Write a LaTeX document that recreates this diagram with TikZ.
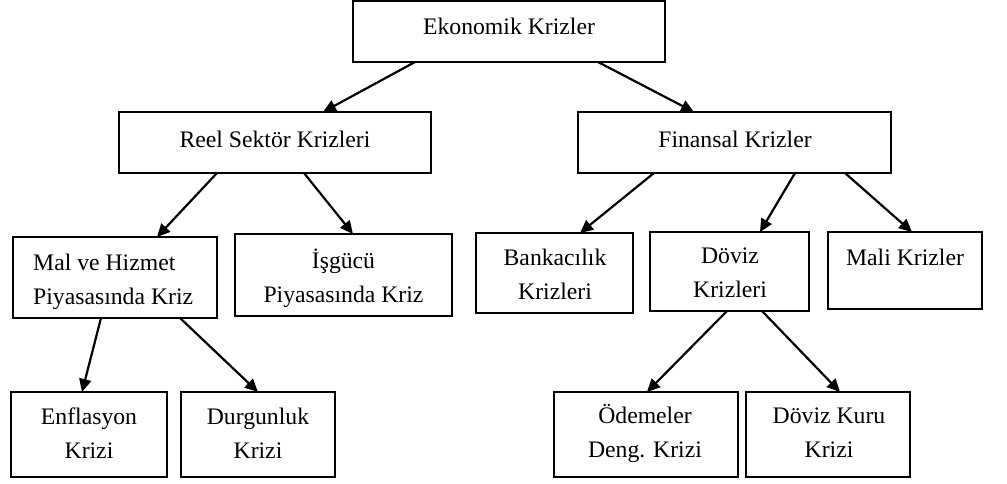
\documentclass[tikz,border=0pt]{standalone}
\usepackage{fontspec}
\setmainfont{Liberation Serif}
\usetikzlibrary{arrows.meta}
\newcommand{\twoc}[2]{\vtop{\baselineskip=34pt\halign{\hfil##\hfil\cr #1\cr #2\cr}}}
\newcommand{\twol}[2]{\vtop{\baselineskip=34pt\halign{##\hfil\cr #1\cr #2\cr}}}
\begin{document}
\begin{tikzpicture}[x=1pt,y=-1pt,
  box/.style={draw=black,line width=2pt,inner sep=0pt,outer sep=0pt},
  lbl/.style={inner sep=0pt,font=\fontsize{23.7}{34}\selectfont},
  arr/.style={line width=2.2pt,-{Triangle[length=13pt,width=12pt]}}]
\useasboundingbox (0,0) rectangle (1007,483);
% boxes
\node[box,minimum width=312pt,minimum height=61pt] (ekon) at (509,31.5) {};
\node[box,minimum width=312pt,minimum height=61pt] (reel) at (275,142.5) {};
\node[box,minimum width=313pt,minimum height=61pt] (fin) at (734.5,142.5) {};
\node[box,minimum width=204pt,minimum height=81pt] (mal) at (115,277.5) {};
\node[box,minimum width=217pt,minimum height=82pt] (isg) at (343.5,275) {};
\node[box,minimum width=157pt,minimum height=80pt] (bank) at (554.5,273) {};
\node[box,minimum width=159pt,minimum height=79pt] (dov) at (729.5,271.5) {};
\node[box,minimum width=154pt,minimum height=77pt] (mali) at (905,270.5) {};
\node[box,minimum width=156pt,minimum height=85pt] (enf) at (89,434.5) {};
\node[box,minimum width=154pt,minimum height=85pt] (durg) at (258,434.5) {};
\node[box,minimum width=184pt,minimum height=85pt] (odem) at (646,434.5) {};
\node[box,minimum width=164pt,minimum height=85pt] (kuru) at (828,434.5) {};
% labels
\node[lbl,anchor=base] (ekonT) at (509,34) {Ekonomik Krizler};
\node[lbl,anchor=base] (reelT) at (275,147) {Reel Sektör Krizleri};
\node[lbl,anchor=base] (finT) at (735,147) {Finansal Krizler};
\node[lbl,anchor=base west] (malT) at (33,270) {\twol{Mal ve Hizmet}{Piyasasında Kriz}};
\node[lbl,anchor=base] (isgT) at (343.5,268) {\twoc{İşgücü}{Piyasasında Kriz}};
\node[lbl,anchor=base] (bankT) at (555,265) {\twoc{Bankacılık}{Krizleri}};
\node[lbl,anchor=base] (dovT) at (730,263) {\twoc{Döviz}{Krizleri}};
\node[lbl,anchor=base] (maliT) at (905,265) {Mali Krizler};
\node[lbl,anchor=base] (enfT) at (89,424) {\twoc{Enflasyon}{Krizi}};
\node[lbl,anchor=base] (durgT) at (258,424) {\twoc{Durgunluk}{Krizi}};
\node[lbl,anchor=base] (odemT) at (645,423) {\twoc{Ödemeler}{Deng. Krizi}};
\node[lbl,anchor=base] (kuruT) at (829,423) {\twoc{Döviz Kuru}{Krizi}};
% arrows
\draw[arr] ([xshift=-94pt]ekon.south) -- ([xshift=48pt]reel.north);
\draw[arr] ([xshift=89pt]ekon.south) -- ([xshift=-40.5pt]fin.north);
\draw[arr] ([xshift=-58pt]reel.south) -- ([xshift=42pt]mal.north);
\draw[arr] ([xshift=29pt]reel.south) -- ([xshift=9.5pt]isg.north);
\draw[arr] ([xshift=-80.5pt]fin.south) -- ([xshift=25.5pt]bank.north);
\draw[arr] ([xshift=60.5pt]fin.south) -- ([xshift=30.5pt]dov.north);
\draw[arr] ([xshift=110.5pt]fin.south) -- ([xshift=7pt]mali.north);
\draw[arr] ([xshift=-14pt]mal.south) -- ([xshift=-7pt]enf.north);
\draw[arr] ([xshift=65pt]mal.south) -- (durg.north);
\draw[arr] ([xshift=-2.5pt]dov.south) -- ([xshift=1pt]odem.north);
\draw[arr] ([xshift=32.5pt]dov.south) -- ([xshift=12pt]kuru.north);
\end{tikzpicture}
\end{document}
